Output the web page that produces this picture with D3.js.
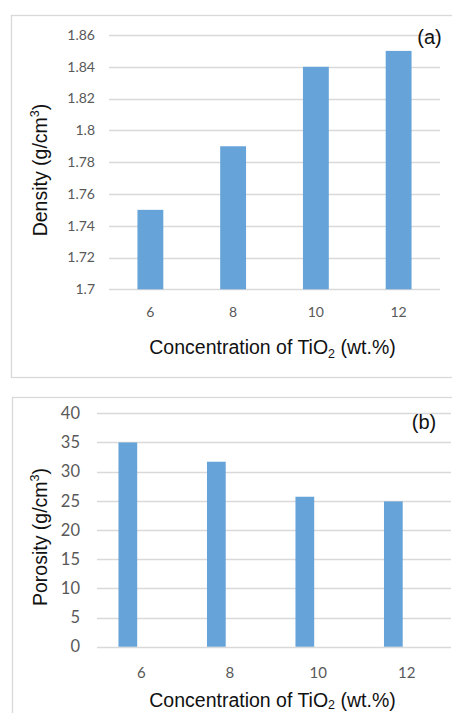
<!DOCTYPE html>
<html><head><meta charset="utf-8">
<script src="https://cdn.jsdelivr.net/npm/d3@7"></script>
<style>body{margin:0;background:#fff}svg{display:block}</style>
</head><body>
<svg id="c" width="452" height="713"></svg>
<script>
const categories = ["6", "8", "10", "12"];
const densityValues = [1.75, 1.79, 1.84, 1.85];
const porosityValues = [35, 31.7, 25.7, 24.9];
const densityTicks = [1.7, 1.72, 1.74, 1.76, 1.78, 1.8, 1.82, 1.84, 1.86];
const porosityTicks = [0, 5, 10, 15, 20, 25, 30, 35, 40];

const svg = d3.select("#c");
const barColor = "#66a3d8";
const gridColor = "#d9d9d9";
const tickColor = "#595959";
const tickFont = "Lato, 'Open Sans', sans-serif";
const titleFont = "'Liberation Sans', Arial, sans-serif";

function panel(o) {
  const g = svg.append("g");
  g.append("rect").attr("x", o.box[0]).attr("y", o.box[1]).attr("width", o.box[2]).attr("height", o.box[3])
    .attr("fill", "#fff").attr("stroke", gridColor).attr("stroke-width", 1.3);
  const x = d3.scaleBand().domain(categories).range(o.xr);
  const y = d3.scaleLinear().domain(o.domain).range(o.yr);
  g.selectAll(".grid").data(o.ticks).join("line")
    .attr("x1", o.xr[0]).attr("x2", o.xr[1])
    .attr("y1", d => Math.round(y(d)) + 0.5).attr("y2", d => Math.round(y(d)) + 0.5)
    .attr("stroke", gridColor).attr("stroke-width", 1.5);
  g.selectAll(".yt").data(o.ticks).join("text")
    .attr("x", o.ytx).attr("y", d => y(d)).attr("dy", "0.35em")
    .attr("text-anchor", "end").attr("fill", tickColor)
    .attr("font-family", tickFont).attr("font-size", o.yfs).text(d => o.fmt(d));
  const inner = d3.scaleBand().domain(o.slots).range([0, x.bandwidth()])
    .paddingInner(o.pin).paddingOuter(o.pout);
  g.selectAll(".bar").data(o.values).join("rect")
    .attr("x", (d, i) => x(categories[i]) + inner("value"))
    .attr("width", inner.bandwidth())
    .attr("y", d => y(d)).attr("height", d => y(o.domain[0]) - y(d))
    .attr("fill", barColor);
  g.selectAll(".xt").data(categories).join("text")
    .attr("x", d => x(d) + x.bandwidth() / 2).attr("y", o.xty).attr("dy", "0.35em")
    .attr("text-anchor", "middle").attr("fill", tickColor)
    .attr("font-family", tickFont).attr("font-size", o.xfs).text(d => d);
  const xt = g.append("text").attr("x", 272.5).attr("y", o.xtitleY).attr("text-anchor", "middle")
    .attr("font-family", titleFont).attr("font-size", 19.5).attr("fill", "#111");
  xt.append("tspan").text("Concentration of TiO");
  xt.append("tspan").attr("font-size", 12.5).attr("dy", o.subDy).text("2");
  xt.append("tspan").attr("dy", -o.subDy).text(" (wt.%)");
  const yt = g.append("text").attr("transform", `translate(${o.ytitleX},${o.ytitleY}) rotate(-90)`)
    .attr("text-anchor", "middle").attr("font-family", titleFont).attr("font-size", 19.5).attr("fill", "#111");
  yt.append("tspan").text(o.ytitle + " (g/cm");
  yt.append("tspan").attr("font-size", 12.5).attr("dy", -8).text("3");
  yt.append("tspan").attr("dy", 8).text(")");
  g.append("text").attr("x", o.lab[0]).attr("y", o.lab[1]).attr("dy", "0.35em").attr("text-anchor", "middle")
    .attr("font-family", titleFont).attr("font-size", 20).attr("fill", "#111").text(o.label);
}

panel({
  box: [11.5, 15.5, 460, 362], xr: [109, 440], domain: [1.7, 1.86], yr: [289.3, 35],
  ticks: densityTicks, fmt: d3.format("~"), ytx: 95, yfs: 14, xfs: 14, xty: 311.7,
  values: densityValues, slots: ["value"], pin: 0, pout: 1.1,
  xtitleY: 354, subDy: 4, ytitleX: 47, ytitleY: 170, ytitle: "Density", lab: [429.5, 37], label: "(a)"
});
panel({
  box: [12.5, 397.5, 460, 340], xr: [97, 451], domain: [0, 40], yr: [646.7, 413.3],
  ticks: porosityTicks, fmt: d3.format("d"), ytx: 80, yfs: 16.5, xfs: 15, xty: 672.3,
  values: porosityValues, slots: ["value", "empty"], pin: 0.302, pout: 0.80,
  xtitleY: 707, subDy: 2, ytitleX: 47, ytitleY: 537, ytitle: "Porosity", lab: [424, 421.7], label: "(b)"
});
</script>
</body></html>
